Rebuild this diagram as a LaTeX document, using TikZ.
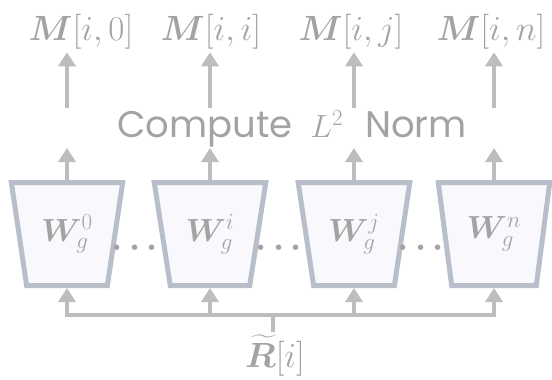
\RequirePackage{fix-cm}
\documentclass[tikz,border=0pt]{standalone}
\usepackage{amsmath,bm}
\usepackage{fontspec}
\newfontfamily\gothic{Poppins}
\usetikzlibrary{arrows.meta,shapes.geometric}

\DeclareMathSizes{32}{32}{23}{16}
\DeclareMathSizes{35}{35}{24.5}{17.5}

\definecolor{linegray}{HTML}{BDBDBF}
\definecolor{gatestroke}{HTML}{B9BECB}
\definecolor{gatefill}{HTML}{F9F8FD}
\definecolor{textgray}{HTML}{A3A3A3}

\begin{document}
\begin{tikzpicture}[x=1pt,y=-1pt,
  arr/.style={draw=linegray, line width=4.5pt, -{Triangle[width=17pt,length=14pt]}},
  bus/.style={draw=linegray, line width=4.5pt},
  gate/.style={trapezium, shape border rotate=180, trapezium stretches=true,
    trapezium left angle=76, trapezium right angle=76,
    minimum width=112pt, minimum height=103pt, inner sep=0pt,
    draw=gatestroke, fill=gatefill, line width=5pt,
    text=textgray, font=\fontsize{32}{34}\selectfont},
  outlabel/.style={anchor=base, text=textgray, font=\fontsize{35}{38}\selectfont},
  dots/.style={text=textgray, font=\fontsize{35}{38}\selectfont\boldmath, inner sep=0pt}]

\useasboundingbox (0,0) rectangle (552,380);

% weight gates
\node[gate] (t0) at (67,234)  {\raisebox{3pt}{$\bm{W}_g^0$}};
\node[gate] (t1) at (210,234) {\raisebox{3pt}{$\bm{W}_g^i$}};
\node[gate] (t2) at (354,234) {\raisebox{3pt}{$\bm{W}_g^j$}};
\node[gate] (t3) at (494,234) {\raisebox{3pt}{$\bm{W}_g^n$}};

% ellipses between gates
\node[dots] (d0) at (138,248) {$\cdots$};
\node[dots] (d1) at (282,248) {$\cdots$};
\node[dots] (d2) at (424,248) {$\cdots$};

% norm step
\node[anchor=base, text=textgray, inner sep=0pt] (norm) at (292,137)
  {\fontsize{37}{40}\selectfont\gothic Compute\hspace{18pt}%
   {\fontsize{32}{36}\selectfont$L^2$}\hspace{22pt}Norm};

% output entries
\node[outlabel] (m0) at (81,40)  {$\bm{M}[i,0]$};
\node[outlabel] (m1) at (211,40) {$\bm{M}[i,i]$};
\node[outlabel] (m2) at (351,40) {$\bm{M}[i,j]$};
\node[outlabel] (m3) at (491,40) {$\bm{M}[i,n]$};

% input row
\node[anchor=base, text=textgray, font=\fontsize{35}{38}\selectfont, inner sep=0pt] (r) at (275,367)
  {$\widetilde{\bm{R}}[i]$};

% arrow end points around the norm label
\coordinate (lo0) at (67,148);  \coordinate (hi0) at (67,108);
\coordinate (lo1) at (210,148); \coordinate (hi1) at (210,108);
\coordinate (lo2) at (354,148); \coordinate (hi2) at (354,108);
\coordinate (lo3) at (494,148); \coordinate (hi3) at (494,108);
\coordinate (bc) at (273,315);

% gates to norm
\draw[arr] (t0.north) -- (lo0);
\draw[arr] (t1.north) -- (lo1);
\draw[arr] (t2.north) -- (lo2);
\draw[arr] (t3.north) -- (lo3);

% norm to outputs
\draw[arr] (hi0) -- (hi0 |- m0.south);
\draw[arr] (hi1) -- (hi1 |- m1.south);
\draw[arr] (hi2) -- (hi2 |- m2.south);
\draw[arr] (hi3) -- (hi3 |- m3.south);

% input bus
\draw[arr] (bc) -| (t0.south);
\draw[arr] (bc) -| (t3.south);
\draw[arr] (t1.south |- bc) -- (t1.south);
\draw[arr] (t2.south |- bc) -- (t2.south);
\draw[bus, shorten >=3pt] (bc) -- (bc |- r.north);
\end{tikzpicture}
\end{document}
